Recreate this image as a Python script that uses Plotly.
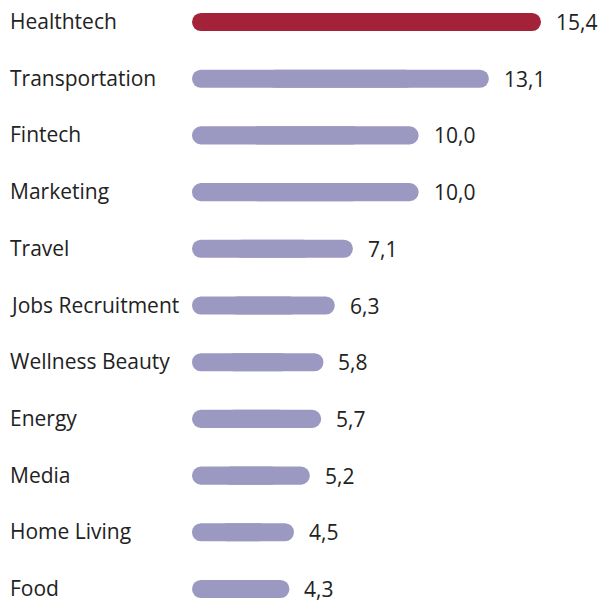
import plotly.graph_objects as go

categories = ["Healthtech", "Transportation", "Fintech", "Marketing", "Travel",
              "Jobs Recruitment", "Wellness Beauty", "Energy", "Media",
              "Home Living", "Food"]
values = [15.4, 13.1, 10.0, 10.0, 7.1, 6.3, 5.8, 5.7, 5.2, 4.5, 4.3]
value_labels = ["15,4", "13,1", "10,0", "10,0", "7,1", "6,3", "5,8", "5,7", "5,2", "4,5", "4,3"]

HIGHLIGHT = "#A3223A"
MUTED = "#9B99C2"
TEXT = "#222222"
FONT = "Open Sans"
FONT_SIZE = 21

colors = [HIGHLIGHT if i == 0 else MUTED for i in range(len(values))]
ypos = list(range(len(categories)))
bar_w = 0.32

fig = go.Figure()
# Each pill is two overlapping bars: one rounded on the right, one on the left.
fig.add_trace(go.Bar(
    y=ypos, x=[v * 0.75 for v in values], base=[v * 0.25 for v in values],
    orientation="h", width=bar_w, marker=dict(color=colors, cornerradius="50%", line=dict(width=0)),
    hoverinfo="skip", showlegend=False,
))
fig.add_trace(go.Bar(
    y=ypos, x=[-v * 0.75 for v in values], base=[v * 0.75 for v in values],
    orientation="h", width=bar_w, marker=dict(color=colors, cornerradius="50%", line=dict(width=0)),
    hoverinfo="skip", showlegend=False,
))

annotations = []
for i, (cat, v, lab) in enumerate(zip(categories, values, value_labels)):
    annotations.append(dict(
        x=9 / 598, xref="paper", y=i, yref="y", text=cat, showarrow=False,
        xanchor="left", yanchor="middle", borderpad=0, yshift=1,
        font=dict(family=FONT, size=FONT_SIZE, color=TEXT),
    ))
    annotations.append(dict(
        x=v, xref="x", y=i, yref="y", text=lab, showarrow=False,
        xanchor="left", yanchor="middle", xshift=14, yshift=0, borderpad=0,
        font=dict(family=FONT, size=FONT_SIZE, color=TEXT),
    ))

px_per_unit = (541 - 192) / 15.4
fig.update_layout(
    width=598, height=600,
    margin=dict(l=0, r=0, t=0, b=0),
    paper_bgcolor="white", plot_bgcolor="white",
    barmode="overlay",
    xaxis=dict(range=[-192 / px_per_unit, (598 - 192) / px_per_unit], visible=False, fixedrange=True),
    yaxis=dict(range=[10.194, -0.388], visible=False, fixedrange=True),
    annotations=annotations,
)

fig.write_html("out.html")
